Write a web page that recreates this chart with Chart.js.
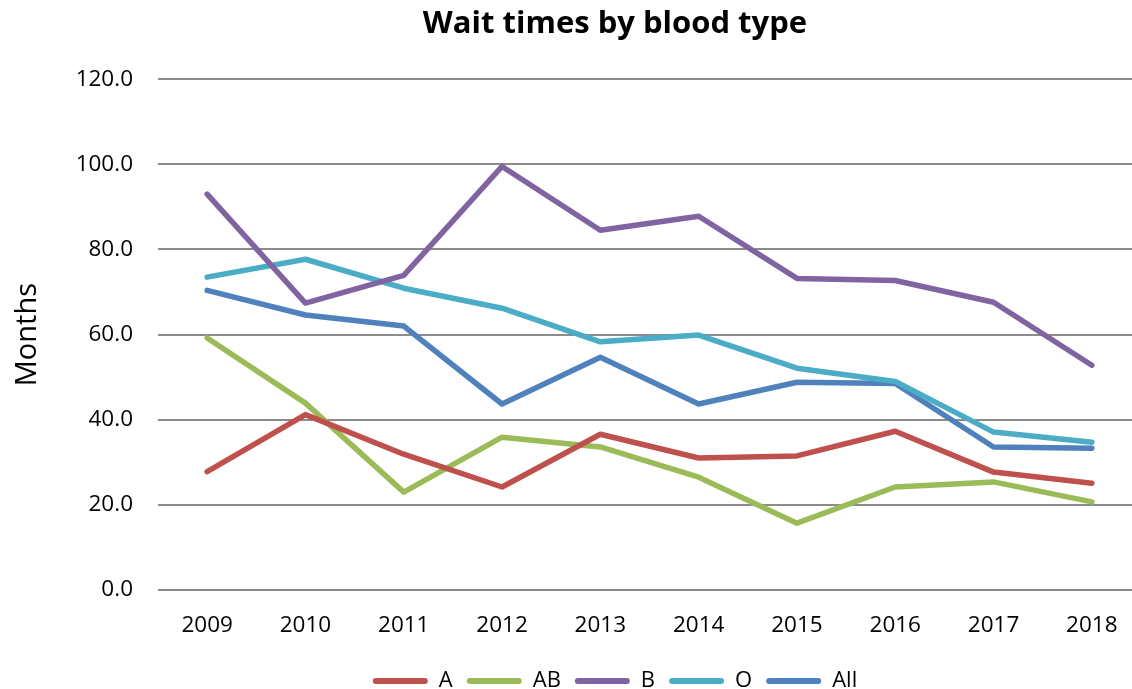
<!DOCTYPE html>
<html>
<head>
<meta charset="utf-8">
<script src="https://cdn.jsdelivr.net/npm/chart.js@4/dist/chart.umd.min.js"></script>
<style>
  html, body { margin: 0; padding: 0; background: #fff; overflow: hidden; }
  #wrap { position: absolute; left: 0; top: 0; width: 1230px; height: 702px; }
</style>
</head>
<body>
<div id="wrap"><canvas id="myChart"></canvas></div>
<script>
var years = ['2009', '2010', '2011', '2012', '2013', '2014', '2015', '2016', '2017', '2018'];
var typeA  = [27.8, 41.2, 31.9, 24.2, 36.6, 31.0, 31.5, 37.3, 27.7, 25.1];
var typeAB = [59.2, 43.9, 23.0, 35.9, 33.6, 26.5, 15.7, 24.2, 25.4, 20.7];
var typeB  = [93.0, 67.4, 73.9, 99.5, 84.5, 87.8, 73.2, 72.7, 67.6, 52.8];
var typeO  = [73.5, 77.7, 70.9, 66.2, 58.3, 59.9, 52.1, 49.0, 37.1, 34.7];
var typeAll = [70.4, 64.6, 62.0, 43.7, 54.7, 43.7, 48.8, 48.5, 33.6, 33.3];

var font = "'Open Sans', 'Liberation Sans', sans-serif";

function line(label, data, color) {
  return {
    label: label,
    data: data,
    borderColor: color,
    backgroundColor: color,
    borderWidth: 5.5,
    borderCapStyle: 'round',
    borderJoinStyle: 'round',
    pointRadius: 0,
    pointHoverRadius: 0,
    tension: 0,
    fill: false
  };
}

function init() {
  var ctx = document.getElementById('myChart').getContext('2d');
  var chart = new Chart(ctx, {
    type: 'line',
    data: {
      labels: years,
      datasets: [
        line('A', typeA, '#C0504D'),
        line('AB', typeAB, '#9BBB59'),
        line('B', typeB, '#8064A2'),
        line('O', typeO, '#4BACC6'),
        line('All', typeAll, '#4F81BD')
      ]
    },
    options: {
      responsive: true,
      maintainAspectRatio: false,
      animation: false,
      layout: { padding: 0 },
      plugins: {
        title: {
          display: true,
          text: 'Wait times by blood type',
          color: '#000',
          font: { family: font, size: 31, weight: 'bold' },
          padding: { top: 6, bottom: 36 }
        },
        legend: {
          position: 'bottom',
          labels: {
            color: '#000',
            font: { family: font, size: 22 },
            boxWidth: 55,
            boxHeight: 6,
            padding: 14,
            generateLabels: function (chart) {
              return chart.data.datasets.map(function (ds, i) {
                return {
                  text: ds.label,
                  fillStyle: ds.borderColor,
                  strokeStyle: ds.borderColor,
                  lineWidth: 0,
                  borderRadius: 3,
                  fontColor: '#000',
                  datasetIndex: i
                };
              });
            }
          }
        },
        tooltip: { enabled: false }
      },
      scales: {
        x: {
          offset: true,
          grid: { display: false, drawTicks: false },
          border: { display: false },
          ticks: { color: '#000', font: { family: font, size: 22.5 }, padding: 22 },
          afterFit: function (scale) { scale.height = 66; }
        },
        y: {
          min: 0,
          max: 120,
          ticks: {
            stepSize: 20,
            color: '#000',
            font: { family: font, size: 22.5 },
            padding: 25,
            callback: function (v) { return v.toFixed(1); }
          },
          grid: { color: '#8c8c8c', lineWidth: 2, drawTicks: false },
          border: { display: false },
          title: {
            display: true,
            text: 'Months',
            color: '#000',
            font: { family: font, size: 29 },
            padding: { top: 10, bottom: 0 }
          },
          afterFit: function (scale) { scale.width = 158; }
        },
        // empty right axis, keeps the plot ending past the window edge
        yRight: {
          position: 'right',
          display: true,
          grid: { display: false, drawTicks: false },
          border: { display: false },
          ticks: { display: false },
          afterFit: function (scale) { scale.width = 89; }
        }
      }
    }
  });
}
init();
</script>
</body>
</html>
